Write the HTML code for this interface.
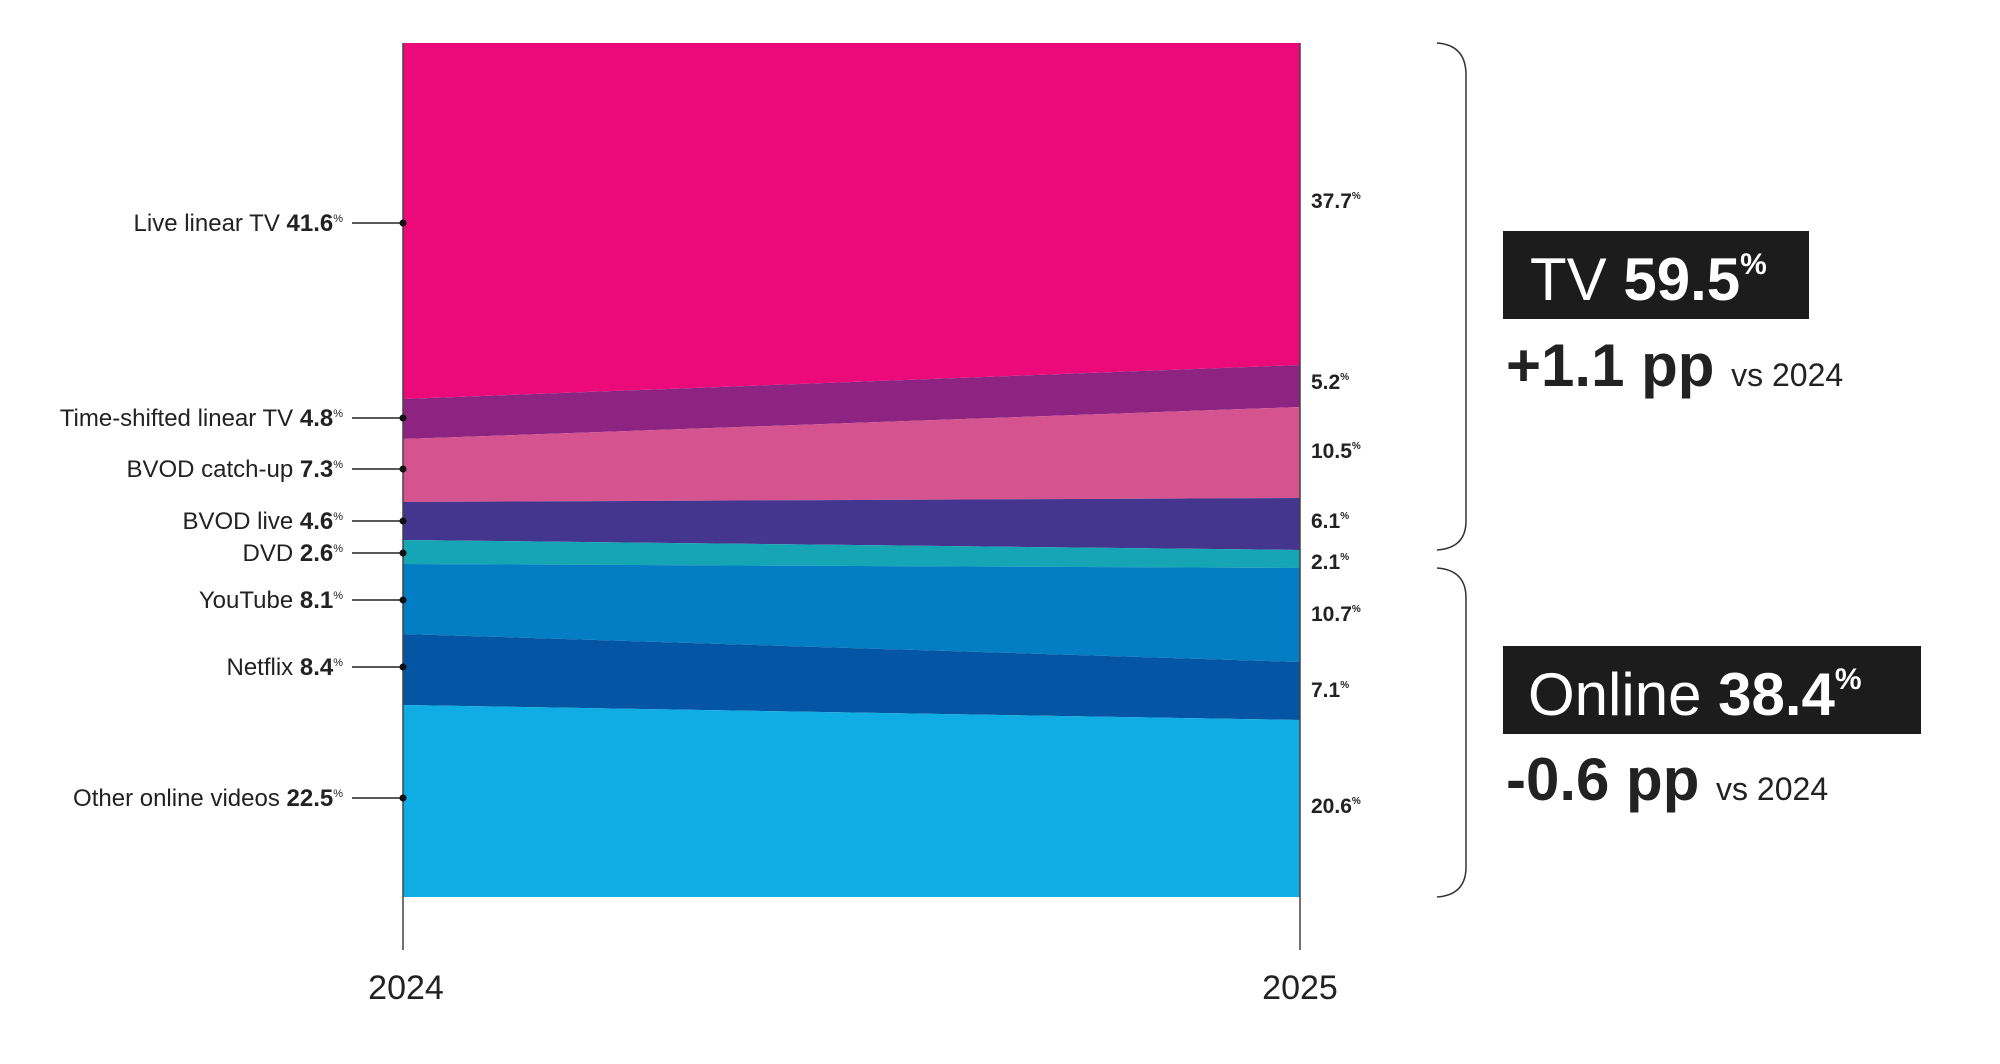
<!DOCTYPE html>
<html><head><meta charset="utf-8"><style>
html,body{margin:0;padding:0;background:#fff;}
svg{display:block;font-family:"Liberation Sans",sans-serif;}
</style></head><body>
<svg width="2000" height="1064" viewBox="0 0 2000 1064" xmlns="http://www.w3.org/2000/svg">
<polygon points="403,43 1300,43 1300,365 403,399" fill="#ec0a7a"/>
<polygon points="403,399 1300,365 1300,407 403,439" fill="#8e2482"/>
<polygon points="403,439 1300,407 1300,498 403,502" fill="#d5538f"/>
<polygon points="403,502 1300,498 1300,550 403,540" fill="#44368f"/>
<polygon points="403,540 1300,550 1300,568 403,564" fill="#15a5b4"/>
<polygon points="403,564 1300,568 1300,662 403,634" fill="#037ec4"/>
<polygon points="403,634 1300,662 1300,720 403,705" fill="#0456a4"/>
<polygon points="403,705 1300,720 1300,897 403,897" fill="#10ace4"/>
<line x1="403" y1="43" x2="403" y2="950" stroke="#444" stroke-width="1.5"/>
<line x1="1300" y1="43" x2="1300" y2="950" stroke="#444" stroke-width="1.5"/>
<text x="406" y="999" font-size="34" text-anchor="middle" fill="#222">2024</text>
<text x="1300" y="999" font-size="34" text-anchor="middle" fill="#222">2025</text>
<g font-size="24" fill="#222" text-anchor="end">
<text x="343" y="231">Live linear TV <tspan font-weight="bold">41.6</tspan><tspan font-size="11" dy="-9">%</tspan></text>
<text x="343" y="426">Time-shifted linear TV <tspan font-weight="bold">4.8</tspan><tspan font-size="11" dy="-9">%</tspan></text>
<text x="343" y="477">BVOD catch-up <tspan font-weight="bold">7.3</tspan><tspan font-size="11" dy="-9">%</tspan></text>
<text x="343" y="529">BVOD live <tspan font-weight="bold">4.6</tspan><tspan font-size="11" dy="-9">%</tspan></text>
<text x="343" y="561">DVD <tspan font-weight="bold">2.6</tspan><tspan font-size="11" dy="-9">%</tspan></text>
<text x="343" y="608">YouTube <tspan font-weight="bold">8.1</tspan><tspan font-size="11" dy="-9">%</tspan></text>
<text x="343" y="675">Netflix <tspan font-weight="bold">8.4</tspan><tspan font-size="11" dy="-9">%</tspan></text>
<text x="343" y="806">Other online videos <tspan font-weight="bold">22.5</tspan><tspan font-size="11" dy="-9">%</tspan></text>
</g>
<g stroke="#222" stroke-width="1.5">
<line x1="352" y1="223" x2="403" y2="223"/><line x1="352" y1="418" x2="403" y2="418"/>
<line x1="352" y1="469" x2="403" y2="469"/><line x1="352" y1="521" x2="403" y2="521"/>
<line x1="352" y1="553" x2="403" y2="553"/><line x1="352" y1="600" x2="403" y2="600"/>
<line x1="352" y1="667" x2="403" y2="667"/><line x1="352" y1="798" x2="403" y2="798"/>
</g>
<g fill="#111">
<circle cx="403" cy="223" r="3.5"/><circle cx="403" cy="418" r="3.5"/><circle cx="403" cy="469" r="3.5"/>
<circle cx="403" cy="521" r="3.5"/><circle cx="403" cy="553" r="3.5"/><circle cx="403" cy="600" r="3.5"/>
<circle cx="403" cy="667" r="3.5"/><circle cx="403" cy="798" r="3.5"/>
</g>
<g font-size="21" font-weight="bold" fill="#222">
<text x="1311" y="208">37.7<tspan font-size="10" dy="-9">%</tspan></text>
<text x="1311" y="389">5.2<tspan font-size="10" dy="-9">%</tspan></text>
<text x="1311" y="458">10.5<tspan font-size="10" dy="-9">%</tspan></text>
<text x="1311" y="528">6.1<tspan font-size="10" dy="-9">%</tspan></text>
<text x="1311" y="569">2.1<tspan font-size="10" dy="-9">%</tspan></text>
<text x="1311" y="621">10.7<tspan font-size="10" dy="-9">%</tspan></text>
<text x="1311" y="697">7.1<tspan font-size="10" dy="-9">%</tspan></text>
<text x="1311" y="813">20.6<tspan font-size="10" dy="-9">%</tspan></text>
</g>
<g fill="none" stroke="#333" stroke-width="1.5">
<path d="M1437,43 Q1466,45 1466,75 L1466,521 Q1466,548 1437,550"/>
<path d="M1437,568 Q1466,570 1466,598 L1466,867 Q1466,895 1437,897"/>
</g>
<rect x="1503" y="231" width="306" height="88" fill="#1c1c1c"/>
<text x="1530" y="300" font-size="60" fill="#fff">TV <tspan font-weight="bold">59.5</tspan><tspan font-size="30" font-weight="bold" dy="-26">%</tspan></text>
<text x="1506" y="386" font-size="60" font-weight="bold" fill="#222">+1.1 pp <tspan font-size="32" font-weight="normal">vs 2024</tspan></text>
<rect x="1503" y="646" width="418" height="88" fill="#1c1c1c"/>
<text x="1528" y="715" font-size="60" fill="#fff">Online <tspan font-weight="bold">38.4</tspan><tspan font-size="30" font-weight="bold" dy="-26">%</tspan></text>
<text x="1506" y="800" font-size="60" font-weight="bold" fill="#222">-0.6 pp <tspan font-size="32" font-weight="normal">vs 2024</tspan></text>
</svg>
</body></html>
